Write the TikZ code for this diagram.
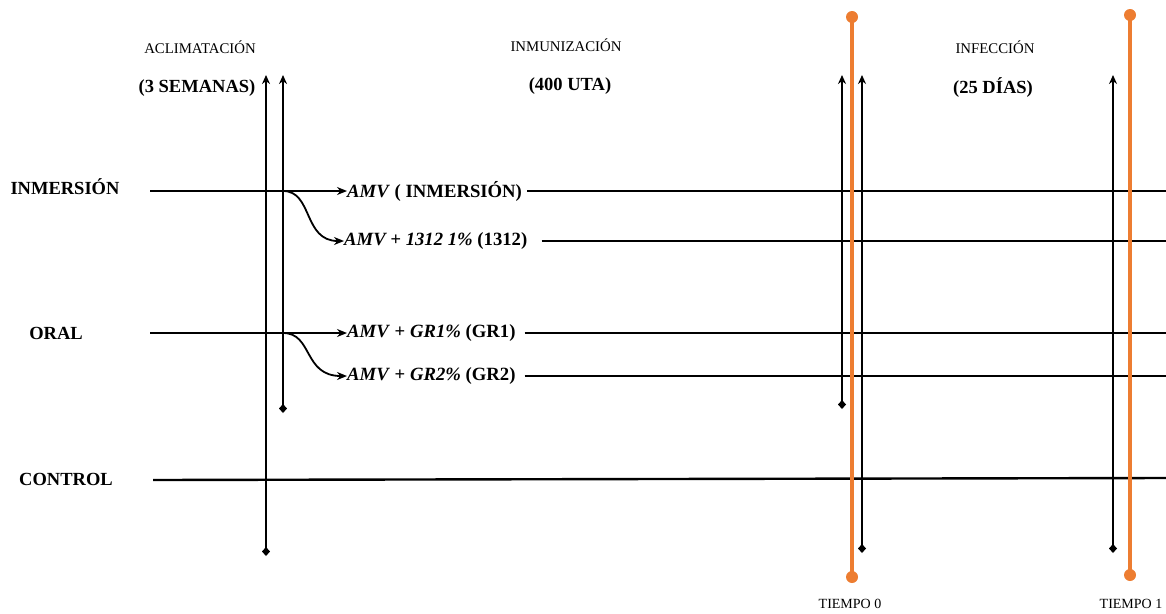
\documentclass[tikz,border=0pt]{standalone}
\usepackage{fontspec}
\setmainfont{Liberation Serif}
\usetikzlibrary{arrows.meta}
\definecolor{orng}{RGB}{237,125,49}
\tikzset{
  hline/.style={line width=2.4pt,black},
  vline/.style={line width=2.4pt,black,{Stealth[length=9pt,width=8pt]}-{Diamond[length=9pt,width=8pt]}},
  arr/.style={line width=1.8pt,black,-{Stealth[length=10pt,width=8pt]}},
  tline/.style={line width=3.2pt,orng},
  dot/.style={circle,fill=orng,inner sep=0pt,minimum size=12pt},
  head/.style={font=\fontsize{14.8}{16}\selectfont,inner sep=0pt},
  sub/.style={font=\bfseries\fontsize{18.5}{20}\selectfont,inner sep=0pt},
  grp/.style={font=\bfseries\fontsize{18.5}{20}\selectfont,inner sep=0pt},
  trt/.style={font=\bfseries\fontsize{18.7}{20}\selectfont,inner sep=0pt,anchor=west},
  tlab/.style={font=\fontsize{14}{15}\selectfont,inner sep=0pt}
}
\begin{document}
\begin{tikzpicture}[x=1pt,y=-1pt]
\useasboundingbox (0,0) rectangle (1166,613);
% headings
\node[head] (hA) at (200,47) {ACLIMATACIÓN};
\node[sub]  (sA) at (197,88) {(3 SEMANAS)};
\node[head] (hB) at (566,45) {INMUNIZACIÓN};
\node[sub]  (sB) at (570,86) {(400 UTA)};
\node[head] (hC) at (995,47) {INFECCIÓN};
\node[sub]  (sC) at (993,88) {(25 DÍAS)};
% group labels
\node[grp] (gI) at (65,187) {INMERSIÓN};
\node[grp] (gO) at (56,333) {ORAL};
\node[grp] (gC) at (66,479) {CONTROL};
% coordinates
\coordinate (sI) at (150,191);
\coordinate (bI) at (283,191);
\coordinate (sO) at (150,333);
\coordinate (bO) at (283,333);
\coordinate (sCt) at (153,480);
\coordinate (eCt) at (1166,478);
\coordinate (e1) at (1166,191);
\coordinate (e2) at (1166,241);
\coordinate (e3) at (1166,333);
\coordinate (e4) at (1166,376);
% treatment labels
\node[trt] (t1) at (347,191) {\textit{AMV} ( INMERSIÓN)};
\node[trt] (t2) at (344,241) {\textit{AMV + 1312 1\%} (1312)};
\node[trt] (t3) at (347,333) {\textit{AMV} + \textit{GR1\%} (GR1)};
\node[trt] (t4) at (347,376) {\textit{AMV} + \textit{GR2\%} (GR2)};
% horizontal lines
\draw[arr] (sI) -- (t1.west);
\draw[arr] (bI) .. controls (313,191) and (303,241) .. (t2.west);
\draw[hline] ([xshift=5pt]t1.east) -- (e1);
\draw[hline] ([xshift=14pt]t2.east) -- (e2);
\draw[arr] (sO) -- (t3.west);
\draw[arr] (bO) .. controls (313,333) and (303,376) .. (t4.west);
\draw[hline] ([xshift=9pt]t3.east) -- (e3);
\draw[hline] ([xshift=9pt]t4.east) -- (e4);
\draw[hline] (sCt) -- (eCt);
% vertical lines
\coordinate (v1t) at (266,75); \coordinate (v1b) at (266,556);
\coordinate (v2t) at (283,75); \coordinate (v2b) at (283,413);
\coordinate (v3t) at (842,75); \coordinate (v3b) at (842,409);
\coordinate (v4t) at (862,75); \coordinate (v4b) at (862,553);
\coordinate (v5t) at (1113,75); \coordinate (v5b) at (1113,553);
\draw[vline] (v1t) -- (v1b);
\draw[vline] (v2t) -- (v2b);
\draw[vline] (v3t) -- (v3b);
\draw[vline] (v4t) -- (v4b);
\draw[vline] (v5t) -- (v5b);
% time lines
\node[dot] (o0t) at (852,17) {};
\node[dot] (o0b) at (852,577) {};
\node[dot] (o1t) at (1130,15) {};
\node[dot] (o1b) at (1130,575) {};
\draw[tline] (o0t.center) -- (o0b.center);
\draw[tline] (o1t.center) -- (o1b.center);
\node[tlab] (T0) at (850,604) {TIEMPO 0};
\node[tlab] (T1) at (1131,604) {TIEMPO 1};
\end{tikzpicture}
\end{document}
